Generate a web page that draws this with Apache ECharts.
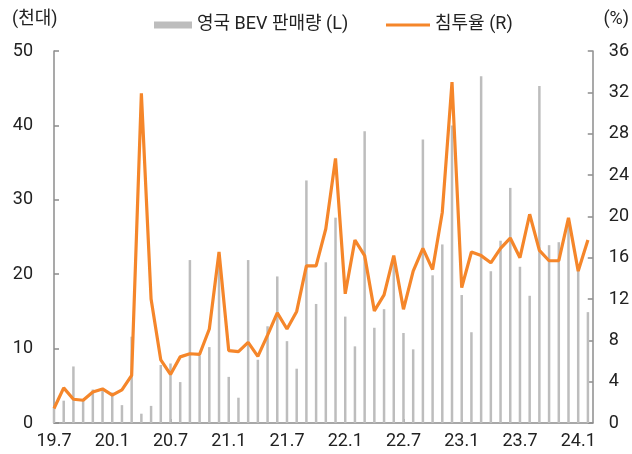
<!DOCTYPE html>
<html>
<head>
<meta charset="utf-8">
<script src="https://cdn.jsdelivr.net/npm/echarts@6/dist/echarts.min.js"></script>
<style>
  html, body { margin: 0; padding: 0; background: #fff; }
  #chart { width: 632px; height: 454px; }
</style>
</head>
<body>
<div id="chart"></div>
<script>
// monthly, 2019.7 ~ 2024.2
var months = [
  '19.7','19.8','19.9','19.10','19.11','19.12',
  '20.1','20.2','20.3','20.4','20.5','20.6','20.7','20.8','20.9','20.10','20.11','20.12',
  '21.1','21.2','21.3','21.4','21.5','21.6','21.7','21.8','21.9','21.10','21.11','21.12',
  '22.1','22.2','22.3','22.4','22.5','22.6','22.7','22.8','22.9','22.10','22.11','22.12',
  '23.1','23.2','23.3','23.4','23.5','23.6','23.7','23.8','23.9','23.10','23.11','23.12',
  '24.1','24.2'
]
// UK BEV sales (thousand units)
var bevSales = [
  2, 3.0, 7.6, 3.0, 4.5, 4.6, 4.1, 2.4, 11.6, 1.25, 2.3, 7.8, 8.0, 5.5, 21.9, 9.1,
  10.2, 22.5, 6.2, 3.4, 21.9, 8.5, 13.0, 19.7, 11.0, 7.3, 32.6, 16.0, 21.6, 27.6,
  14.3, 10.3, 39.2, 12.8, 15.3, 22, 12.1, 9.9, 38.1, 19.85, 24, 40, 17.2, 12.2,
  46.6, 20.4, 24.5, 31.6, 21, 17.1, 45.3, 23.9, 24.3, 27, 21, 14.9
]
// penetration rate (%)
var shareRate = [
  1.4, 3.4, 2.3, 2.2, 3.0, 3.3, 2.7, 3.2, 4.6, 31.9, 12.0, 6.1, 4.7, 6.4, 6.7, 6.65,
  9.1, 16.55, 7.0, 6.9, 7.8, 6.45, 8.5, 10.65, 9.1, 10.8, 15.2, 15.2, 18.8, 25.6,
  12.5, 17.7, 16.2, 10.85, 12.4, 16.2, 11.0, 14.7, 16.9, 14.85, 20.4, 33.0, 13.1, 16.55,
  16.2, 15.5, 16.9, 17.9, 16.0, 20.2, 16.7, 15.7, 15.7, 19.85, 14.7, 17.7
]

var chart = echarts.init(document.getElementById('chart'))

var fontFamily = 'Roboto, "Noto Sans CJK KR", sans-serif'
var axisColor = '#8c8c8c'

var barData = [], lineData = []
bevSales.forEach(function (v, i) { barData.push([i, v]) })
shareRate.forEach(function (v, i) { lineData.push([i, v]) })

chart.setOption({
  animation: false,
  textStyle: { fontFamily: fontFamily },
  grid: { left: 54, right: 37, top: 51, bottom: 31 },
  graphic: [
    { type: 'text', left: 12, top: 11, style: { text: '(천대)', fontSize: 18, fill: '#222', fontFamily: fontFamily } },
    { type: 'text', right: 3, top: 11, style: { text: '(%)', fontSize: 18, fill: '#222', fontFamily: fontFamily } }
  ],
  legend: [
    {
      data: ['영국 BEV 판매량 (L)'],
      left: 149, top: 11,
      icon: 'rect',
      itemWidth: 38, itemHeight: 7, itemGap: 5,
      textStyle: { fontSize: 18, color: '#222' }
    },
    {
      data: ['침투율 (R)'],
      left: 381, top: 11,
      icon: 'rect',
      itemWidth: 44, itemHeight: 3, itemGap: 5,
      textStyle: { fontSize: 18, color: '#222' }
    }
  ],
  xAxis: {
    type: 'value',
    min: 0,
    max: 55.5,
    interval: 6,
    splitLine: { show: false },
    axisLine: { show: true, lineStyle: { color: axisColor, width: 1.5 } },
    axisTick: { show: true, inside: true, length: 4, lineStyle: { color: axisColor, width: 1.5 } },
    axisLabel: {
      fontSize: 18, color: '#222', margin: 10, showMaxLabel: false,
      formatter: function (v) { return v % 6 === 0 && months[v] ? months[v] : '' }
    }
  },
  yAxis: [
    {
      type: 'value', min: 0, max: 50, interval: 10,
      splitLine: { show: false },
      axisLine: { show: true, lineStyle: { color: axisColor, width: 1.5 } },
      axisTick: { show: true, inside: true, length: 5, lineStyle: { color: axisColor, width: 1.5 } },
      axisLabel: { fontSize: 18, color: '#222', margin: 21 }
    },
    {
      type: 'value', min: 0, max: 36, interval: 4,
      position: 'right',
      splitLine: { show: false },
      axisLine: { show: true, lineStyle: { color: axisColor, width: 1.5 } },
      axisTick: { show: true, inside: true, length: 5, lineStyle: { color: axisColor, width: 1.5 } },
      axisLabel: { fontSize: 18, color: '#222', margin: 16 }
    }
  ],
  series: [
    {
      name: '영국 BEV 판매량 (L)',
      type: 'bar',
      yAxisIndex: 0,
      barWidth: 2.5,
      itemStyle: { color: '#bdbdbd' },
      data: barData
    },
    {
      name: '침투율 (R)',
      type: 'line',
      yAxisIndex: 1,
      symbol: 'none',
      lineStyle: { color: '#f5862a', width: 3.2 },
      itemStyle: { color: '#f5862a' },
      data: lineData
    }
  ]
})
</script>
</body>
</html>
